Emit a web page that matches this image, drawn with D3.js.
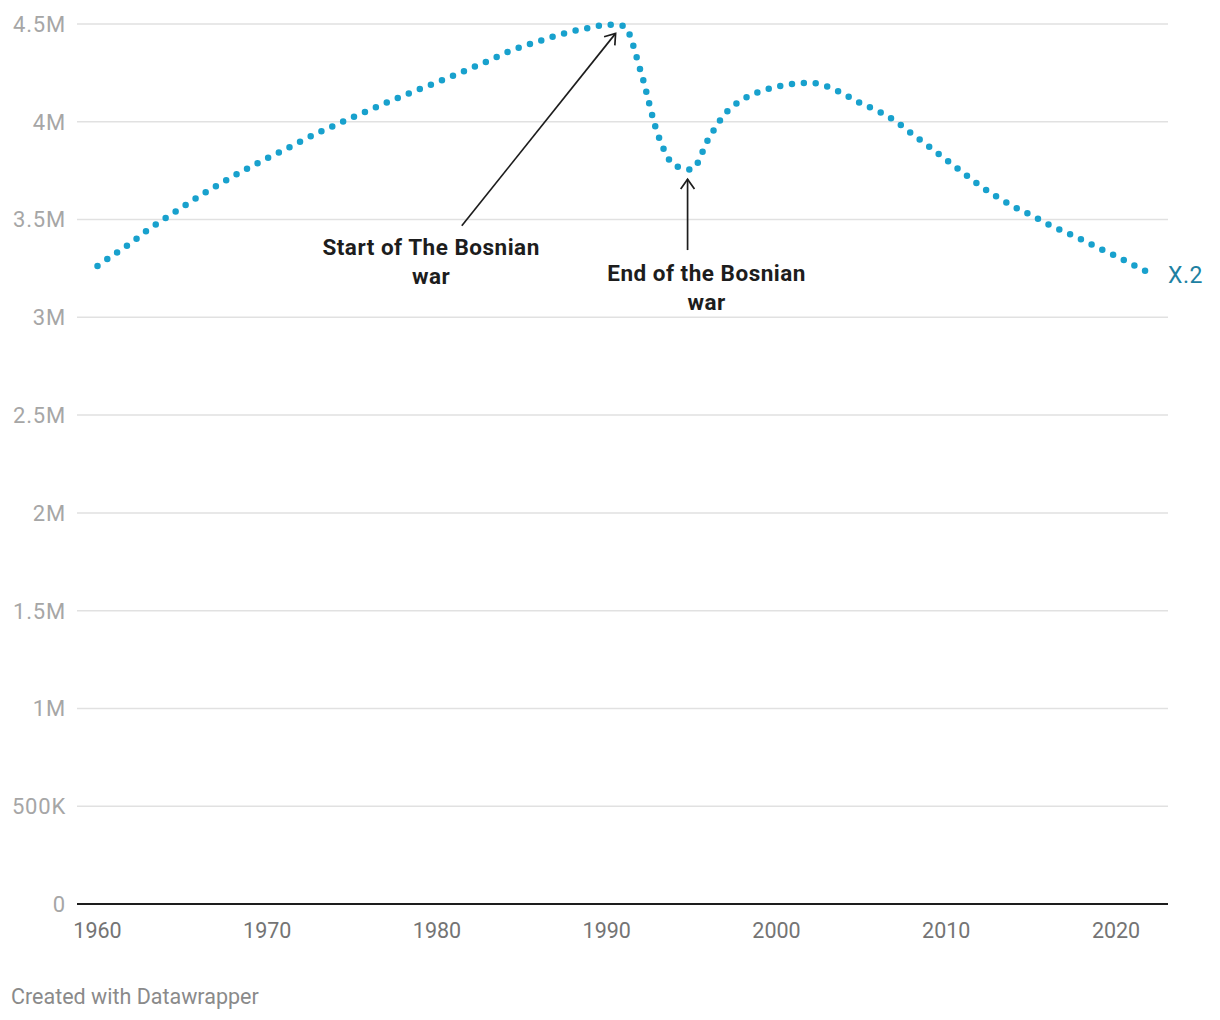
<!DOCTYPE html>
<html lang="en">

<head>
  <meta charset="UTF-8">
  <title>Bosnia and Herzegovina population</title>
  <style>
    body {
      margin: 0;
      background: #fff;
      font-family: Roboto, "Noto Sans", sans-serif;
    }

    #chart {
      display: block;
    }
  </style>
</head>

<body>
  <svg id="chart"></svg>

  <script src="https://d3js.org/d3.v7.min.js"></script>
  <script>
    // population, one value per year (millions)
    const years = d3.range(1960, 2023);
    const population = [
      3.263, 3.323, 3.382, 3.449, 3.507, 3.563, 3.620, 3.672, 3.722, 3.769,
      3.814, 3.856, 3.901, 3.944, 3.983, 4.022, 4.059, 4.097, 4.133, 4.168,
      4.202, 4.237, 4.274, 4.311, 4.351, 4.384, 4.412, 4.440, 4.463, 4.481,
      4.496, 4.490, 4.258, 3.938, 3.777, 3.756, 3.914, 4.044, 4.114, 4.154,
      4.179, 4.194, 4.199, 4.180, 4.140, 4.093, 4.054, 4.004, 3.937, 3.872,
      3.806, 3.739, 3.672, 3.615, 3.565, 3.522, 3.476, 3.436, 3.396, 3.353,
      3.313, 3.269, 3.226
    ].map(v => v * 1e6);
    const seriesName = 'X.2';

    const yTicks = [0, 500000, 1000000, 1500000, 2000000, 2500000, 3000000, 3500000, 4000000, 4500000];
    const yTickLabels = ['0', '500K', '1M', '1.5M', '2M', '2.5M', '3M', '3.5M', '4M', '4.5M'];
    const xTicks = [1960, 1970, 1980, 1990, 2000, 2010, 2020];

    // annotations: arrow from/to in [year, value]
    const annotations = [
      { lines: ['Start of The Bosnian', 'war'], textYear: 1979.65, from: [1981.46, 3.468e6], to: [1990.52, 4.452e6], textDy: 13 },
      { lines: ['End of the Bosnian', 'war'], textYear: 1995.88, from: [1994.76, 3.344e6], to: [1994.76, 3.706e6], textDy: 15 }
    ];

    const width = 1220;
    const height = 1020;
    const blue = '#18a1cd';

    const svg = d3.select('#chart')
      .attr('width', width)
      .attr('height', height);

    const x = d3.scaleLinear().domain([1960, 2022]).range([97.5, 1150]);
    const y = d3.scaleLinear().domain([0, 4500000]).range([904, 24]);
    const gridLeft = 77;
    const gridRight = 1168;

    // gridlines
    svg.append('g')
      .selectAll('line')
      .data(yTicks.filter(d => d > 0))
      .enter()
      .append('line')
      .attr('x1', gridLeft)
      .attr('x2', gridRight)
      .attr('y1', d => y(d))
      .attr('y2', d => y(d))
      .attr('stroke', '#e1e1e1')
      .attr('stroke-width', 1.5);

    // y labels
    svg.append('g')
      .selectAll('text')
      .data(yTicks)
      .enter()
      .append('text')
      .attr('x', 66)
      .attr('y', d => y(d))
      .attr('dy', '0.36em')
      .attr('text-anchor', 'end')
      .attr('font-size', 22)
      .attr('letter-spacing', 0.8)
      .attr('fill', '#a6a6a6')
      .text((d, i) => yTickLabels[i]);

    // baseline
    svg.append('line')
      .attr('x1', gridLeft)
      .attr('x2', gridRight)
      .attr('y1', y(0))
      .attr('y2', y(0))
      .attr('stroke', '#1d1d1d')
      .attr('stroke-width', 2);

    // x labels
    svg.append('g')
      .selectAll('text')
      .data(xTicks)
      .enter()
      .append('text')
      .attr('x', d => x(d))
      .attr('y', 938)
      .attr('text-anchor', 'middle')
      .attr('font-size', 21.5)
      .attr('fill', '#747474')
      .text(d => d);

    // dotted line
    const line = d3.line()
      .x((d, i) => x(years[i]))
      .y(d => y(d))
      .curve(d3.curveMonotoneX);

    svg.append('path')
      .datum(population)
      .attr('d', line)
      .attr('fill', 'none')
      .attr('stroke', blue)
      .attr('stroke-width', 6.5)
      .attr('stroke-linecap', 'round')
      .attr('stroke-dasharray', '0 11.9');

    const last = population.length - 1;
    svg.append('text')
      .attr('x', x(years[last]) + 18)
      .attr('y', y(population[last]) + 2)
      .attr('dy', '0.36em')
      .attr('font-size', 23)
      .attr('letter-spacing', 0.5)
      .attr('fill', '#1d81a2')
      .text(seriesName);

    // annotations
    const ann = svg.append('g');
    annotations.forEach(a => {
      const x1 = x(a.from[0]), y1 = y(a.from[1]);
      const x2 = x(a.to[0]), y2 = y(a.to[1]);
      ann.append('line')
        .attr('x1', x1).attr('y1', y1)
        .attr('x2', x2).attr('y2', y2)
        .attr('stroke', '#1d1d1d')
        .attr('stroke-width', 1.7);

      const ang = Math.atan2(y1 - y2, x1 - x2);
      const len = 12;
      const spread = 35 * Math.PI / 180;
      const p1 = [x2 + len * Math.cos(ang - spread), y2 + len * Math.sin(ang - spread)];
      const p2 = [x2 + len * Math.cos(ang + spread), y2 + len * Math.sin(ang + spread)];
      ann.append('path')
        .attr('d', `M${p1}L${x2},${y2}L${p2}`)
        .attr('fill', 'none')
        .attr('stroke', '#1d1d1d')
        .attr('stroke-width', 1.7);

      const t = ann.append('text')
        .attr('x', x(a.textYear))
        .attr('y', y1 + a.textDy + 16)
        .attr('text-anchor', 'middle')
        .attr('font-size', 22.5)
        .attr('letter-spacing', 0.5)
        .attr('font-weight', 700)
        .attr('fill', '#1d1d1d');
      a.lines.forEach((l, i) => {
        t.append('tspan')
          .attr('x', x(a.textYear))
          .attr('dy', i === 0 ? 0 : 29)
          .text(l);
      });
    });

    // footer
    svg.append('text')
      .attr('x', 11)
      .attr('y', 1004)
      .attr('font-size', 21.5)
      .attr('fill', '#8a8a8a')
      .text('Created with Datawrapper');
  </script>
</body>

</html>
